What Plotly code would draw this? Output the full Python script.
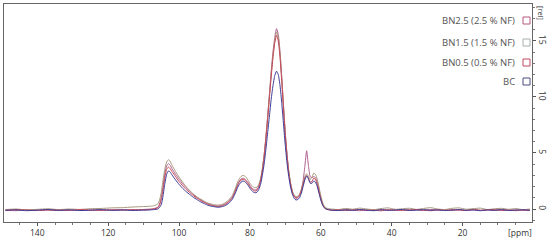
import plotly.graph_objects as go

# chemical shift grid [ppm], shared by all four spectra
ppm = [149, 146, 143, 140, 137, 134, 131, 128, 125, 122, 119, 116, 113, 110,
       108, 107, 106,
       105.5, 105, 104.5, 104, 103.5, 103, 102.5, 102,
       101, 100, 99, 98, 97, 96, 95, 94, 93, 92, 91, 90, 89, 88, 87, 86, 85,
       84.5, 84, 83.5, 83, 82.5, 82, 81.5, 81, 80.5, 80,
       79.5, 79, 78.5, 78, 77.5, 77, 76.5, 76, 75.5, 75,
       74.5, 74, 73.5, 73, 72.5, 72, 71.5, 71, 70.5, 70,
       69.5, 69, 68.5, 68, 67.5, 67, 66.5, 66, 65.5, 65,
       64.5, 64, 63.5, 63, 62.5, 62, 61.5, 61, 60.5, 60,
       59.5, 59, 58.5, 58,
       57, 55, 53, 51, 49, 47, 45, 43, 41, 39, 37, 35, 33, 31, 29, 27, 25, 23,
       21, 19, 17, 15, 13, 11, 9, 7, 5, 3, 1]

bn25 = [-0.1, -0.15, -0.07, -0.12, -0.09, -0.14, -0.06, -0.11, -0.13, -0.08, -0.1, -0.05, -0.09, -0.04,
        0.0, 0.05, 0.15,
        0.45, 1.1, 2.1, 3.2, 3.85, 4.05, 3.9, 3.6,
        3.1, 2.65, 2.25, 1.9, 1.6, 1.3, 1.05, 0.85, 0.65, 0.5, 0.38, 0.3, 0.27, 0.32, 0.45, 0.7, 1.05,
        1.4, 1.8, 2.2, 2.5, 2.68, 2.75, 2.7, 2.55, 2.35, 2.1,
        1.9, 1.75, 1.7, 1.78, 2.05, 2.6, 3.5, 4.8, 6.4, 8.3,
        10.3, 12.3, 14.0, 15.3, 16.1, 15.6, 14.0, 11.7, 9.1, 6.7,
        4.7, 3.2, 2.2, 1.5, 1.15, 1.0, 1.05, 1.25, 1.7, 2.5,
        3.8, 5.2, 3.9, 2.9, 2.8, 2.9, 2.8, 2.4, 1.7, 1.0,
        0.45, 0.15, 0.02, -0.03,
        -0.08, -0.12, -0.04, -0.1, -0.15, -0.06, -0.1, -0.03, -0.12, -0.08, -0.14, -0.05, -0.09, -0.12,
        -0.04, -0.1, -0.07, -0.13, -0.06, -0.1, -0.02, -0.11, -0.08, -0.14, -0.05, -0.1, -0.07, -0.12, -0.09]

bn15 = [-0.05, 0.0, -0.08, -0.03, 0.02, -0.05, 0.0, -0.04, 0.03, 0.05, 0.1, 0.12, 0.18, 0.22,
        0.25, 0.3, 0.45,
        0.8, 1.5, 2.6, 3.6, 4.2, 4.4, 4.25, 3.9,
        3.35, 2.85, 2.4, 2.0, 1.65, 1.35, 1.1, 0.9, 0.72, 0.55, 0.45, 0.38, 0.35, 0.4, 0.55, 0.8, 1.2,
        1.55, 1.95, 2.4, 2.7, 2.9, 3.0, 2.95, 2.8, 2.55, 2.3,
        2.1, 1.95, 1.9, 1.95, 2.2, 2.7, 3.6, 4.8, 6.4, 8.2,
        10.1, 12.0, 13.7, 15.0, 15.8, 15.3, 13.8, 11.6, 9.1, 6.7,
        4.8, 3.3, 2.3, 1.6, 1.25, 1.1, 1.15, 1.35, 1.75, 2.35,
        2.9, 3.15, 2.95, 2.65, 2.8, 3.2, 3.1, 2.65, 1.95, 1.2,
        0.6, 0.25, 0.1, 0.05,
        0.0, -0.05, 0.05, -0.02, 0.08, 0.0, -0.06, 0.04, 0.1, -0.03, 0.02, 0.07, -0.04, 0.05,
        0.12, 0.0, -0.05, 0.06, 0.1, -0.02, 0.03, 0.08, -0.05, 0.02, 0.06, -0.03, 0.04, -0.06, 0.0]

bn05 = [-0.12, -0.06, -0.1, -0.14, -0.08, -0.1, -0.13, -0.05, -0.09, -0.12, -0.07, -0.1, -0.06, -0.08,
        -0.04, 0.02, 0.1,
        0.35, 0.85, 1.8, 2.85, 3.55, 3.75, 3.6, 3.35,
        2.9, 2.45, 2.08, 1.75, 1.47, 1.2, 0.98, 0.78, 0.6, 0.45, 0.33, 0.26, 0.22, 0.27, 0.4, 0.62, 0.98,
        1.3, 1.7, 2.1, 2.4, 2.58, 2.65, 2.6, 2.45, 2.25, 2.0,
        1.8, 1.65, 1.6, 1.68, 1.95, 2.5, 3.4, 4.6, 6.2, 8.0,
        9.9, 11.8, 13.5, 14.8, 15.5, 15.0, 13.5, 11.3, 8.8, 6.5,
        4.6, 3.15, 2.15, 1.45, 1.1, 0.95, 1.0, 1.2, 1.6, 2.2,
        2.75, 3.0, 2.75, 2.4, 2.45, 2.75, 2.65, 2.2, 1.55, 0.9,
        0.4, 0.12, 0.0, -0.05,
        -0.12, -0.07, -0.14, -0.09, -0.05, -0.13, -0.1, -0.16, -0.06, -0.11, -0.08, -0.13, -0.04, -0.1,
        -0.15, -0.08, -0.12, -0.06, -0.1, -0.14, -0.07, -0.12, -0.09, -0.05, -0.13, -0.1, -0.15, -0.08, -0.11]

bc = [-0.12, -0.08, -0.15, -0.10, -0.05, -0.12, -0.08, -0.14, -0.10, -0.06, -0.12, -0.09, -0.13, -0.10,
      -0.08, -0.05, 0.0,
      0.15, 0.4, 1.2, 2.3, 3.1, 3.4, 3.3, 3.05,
      2.6, 2.2, 1.85, 1.55, 1.3, 1.05, 0.85, 0.65, 0.5, 0.35, 0.25, 0.2, 0.15, 0.2, 0.3, 0.5, 0.85,
      1.15, 1.5, 1.9, 2.2, 2.4, 2.5, 2.45, 2.3, 2.1, 1.85,
      1.65, 1.5, 1.45, 1.5, 1.75, 2.2, 3.0, 4.0, 5.3, 6.8,
      8.3, 9.8, 11.0, 11.9, 12.3, 12.0, 11.0, 9.4, 7.5, 5.6,
      4.0, 2.8, 1.9, 1.3, 0.95, 0.8, 0.85, 1.0, 1.4, 2.0,
      2.6, 2.95, 2.7, 2.3, 2.3, 2.5, 2.4, 2.0, 1.4, 0.8,
      0.35, 0.1, 0.0, -0.05,
      -0.1, -0.14, -0.08, -0.12, -0.05, -0.11, -0.15, -0.07, -0.12, -0.09, -0.04, -0.13, -0.1, -0.06,
      -0.12, -0.08, -0.14, -0.1, -0.05, -0.12, -0.09, -0.15, -0.08, -0.11, -0.06, -0.13, -0.1, -0.07, -0.12]

names = ["BN2.5 (2.5 % NF)", "BN1.5 (1.5 % NF)", "BN0.5 (0.5 % NF)", "BC"]
series = [bn25, bn15, bn05, bc]
line_colors = ["#b0608c", "#a8987c", "#c84858", "#3c3c98"]
box_colors = ["#b8587c", "#a8b0a8", "#c04a60", "#4c4c84"]
x_ticks = [140, 120, 100, 80, 60, 40, 20]
y_ticks = [0, 5, 10, 15]

fig = go.Figure()
for name, vals, col in zip(names, series, line_colors):
    fig.add_trace(go.Scatter(x=ppm, y=vals, mode="lines", name=name,
                             line=dict(color=col, width=1, shape="spline", smoothing=0.5)))

# legend drawn by hand like the TopSpin plot: text + small open square at the right
W, H = 550, 242
ml, mr, mt, mb = 4, 18, 4, 20
pw, ph = W - ml - mr, H - mt - mb
leg_y = [20.5, 42.5, 62.5, 81.5]
for name, col, yp in zip(names, box_colors, leg_y):
    yc = (H - mb - yp) / ph
    fig.add_annotation(xref="paper", yref="paper", x=(517 - ml) / pw, y=yc,
                       text=name, showarrow=False, xanchor="right", yanchor="middle",
                       font=dict(size=9.5, color="#555"))
    fig.add_shape(type="rect", xref="paper", yref="paper",
                  x0=(523 - ml) / pw, x1=(530 - ml) / pw,
                  y0=yc - 3.5 / ph, y1=yc + 3.5 / ph,
                  line=dict(color=col, width=1))

fig.add_annotation(xref="paper", yref="paper", x=(520 - ml) / pw, y=-10 / ph,
                   text="[ppm]", showarrow=False, xanchor="center", yanchor="middle",
                   font=dict(size=8.5, color="#333"))
fig.add_annotation(xref="paper", yref="paper", x=(541 - ml) / pw, y=(H - mb - 13) / ph,
                   text="[rel]", showarrow=False, textangle=90, xanchor="center", yanchor="middle",
                   font=dict(size=7.5, color="#333"))

fig.update_layout(
    width=W, height=H,
    margin=dict(l=ml, r=mr, t=mt, b=mb, autoexpand=False),
    plot_bgcolor="white", paper_bgcolor="white",
    showlegend=False,
    font=dict(family="Open Sans", size=8.5, color="#333"),
)
fig.update_xaxes(range=[149.4, 0.4], tickvals=x_ticks, ticks="outside", ticklen=3,
                 tickcolor="#555", showline=True, linecolor="#666", linewidth=1, mirror=True,
                 showgrid=False, zeroline=False, tickfont=dict(size=8.5), automargin=False,
                 minor=dict(dtick=5, ticks="outside", ticklen=2, tickcolor="#777"))
fig.update_yaxes(range=[-1.16, 18.3], side="right", tickvals=y_ticks, ticks="outside", ticklen=3,
                 tickcolor="#555", showline=True, linecolor="#666", linewidth=1, mirror=True,
                 showgrid=False, zeroline=False, tickangle=90, tickfont=dict(size=8.5),
                 automargin=False,
                 minor=dict(dtick=1, ticks="outside", ticklen=2, tickcolor="#777"))

# the browser adds an 8px body margin by default; drop it so the figure sits at 0,0
fig.write_html("out.html", config={"displayModeBar": False},
               post_script="document.body.style.margin='0px';")
